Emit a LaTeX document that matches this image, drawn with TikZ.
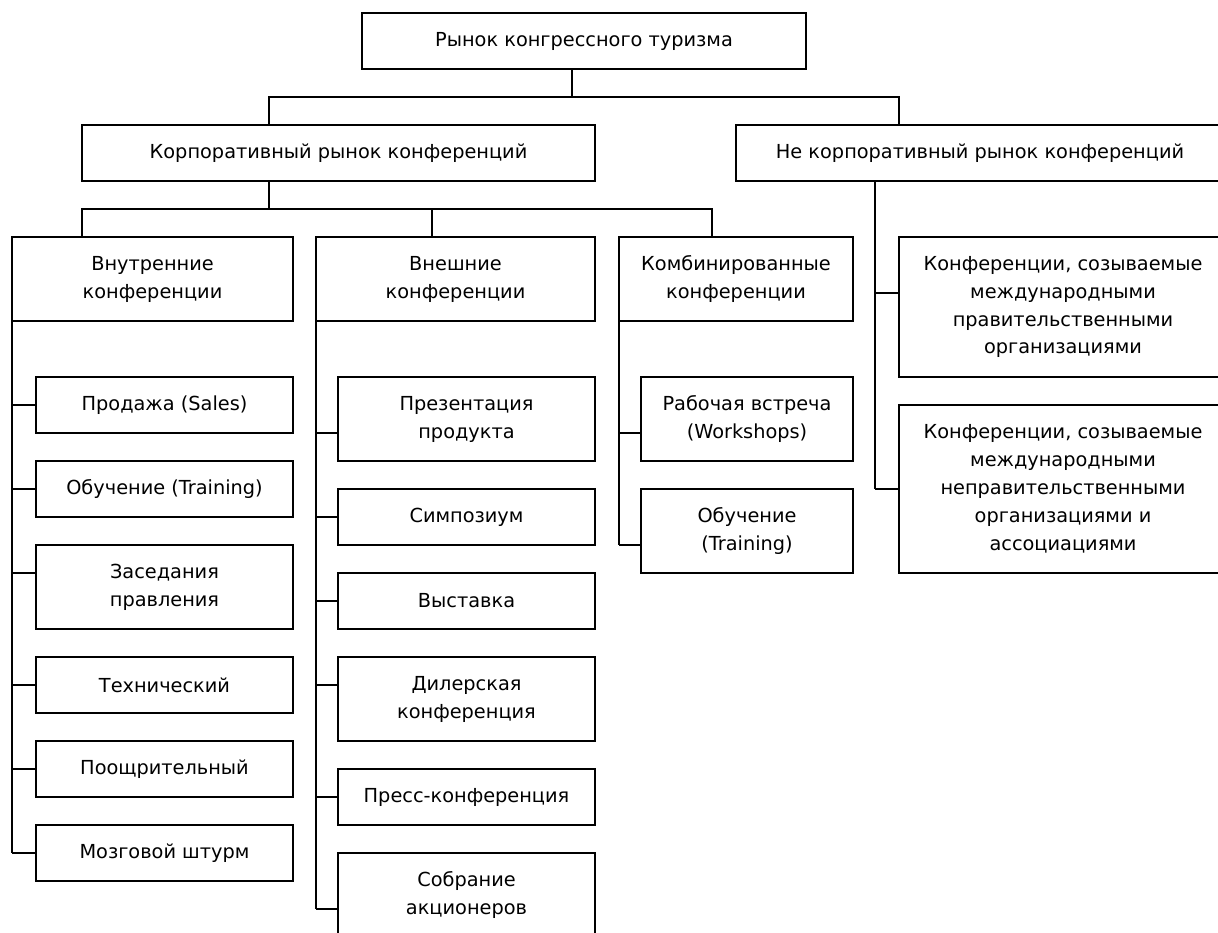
\documentclass[tikz,border=0pt]{standalone}
\usepackage{fontspec}
\setmainfont{DejaVu Sans}
\usetikzlibrary{calc}

\begin{document}
\begin{tikzpicture}[x=0.02cm,y=-0.02cm,
	box/.style={draw,line width=1.1pt,outer sep=0pt,inner sep=1pt,align=center,font=\fontsize{11}{15.9}\selectfont},
	one/.style={minimum height=1.12cm},
	two/.style={minimum height=1.68cm},
	colw/.style={minimum width=5.14cm},
	conn/.style={line width=1.1pt}]
	\useasboundingbox (0,0) rectangle (1218,933);
	\clip (0,0) rectangle (1218,933);

	% top levels
	\node[box,one,minimum width=8.88cm] (root) at (584,41) {Рынок конгрессного туризма};
	\node[box,one,minimum width=10.26cm] (corp) at (338.5,153) {Корпоративный рынок конференций};
	\node[box,one,minimum width=9.76cm] (noncorp) at (980,153) {Не корпоративный рынок конференций};
	\node[box,two,minimum width=5.62cm] (inner) at (152.5,279) {Внутренние\\конференции};
	\node[box,two,minimum width=5.58cm] (ext) at (455.5,279) {Внешние\\конференции};
	\node[box,two,minimum width=4.68cm] (comb) at (736,279) {Комбинированные\\конференции};

	% inner conferences
	\node[box,one,colw] (prod) at (164.5,405) {Продажа (Sales)};
	\node[box,one,colw] (obuch) at (164.5,489) {Обучение (Training)};
	\node[box,two,colw] (zased) at (164.5,587) {Заседания\\правления};
	\node[box,one,colw] (tech) at (164.5,685) {Технический};
	\node[box,one,colw] (pooshch) at (164.5,769) {Поощрительный};
	\node[box,one,colw] (mozg) at (164.5,853) {Мозговой штурм};

	% external conferences
	\node[box,two,colw] (prez) at (466.5,419) {Презентация\\продукта};
	\node[box,one,colw] (simp) at (466.5,517) {Симпозиум};
	\node[box,one,colw] (vyst) at (466.5,601) {Выставка};
	\node[box,two,colw] (diler) at (466.5,699) {Дилерская\\конференция};
	\node[box,one,colw] (press) at (466.5,797) {Пресс-конференция};
	\node[box,two,colw] (sobr) at (466.5,895) {Собрание\\акционеров};

	% combined conferences
	\node[box,two,minimum width=4.24cm] (rab) at (747,419) {Рабочая встреча\\(Workshops)};
	\node[box,two,minimum width=4.24cm] (obuchb) at (747,531) {Обучение\\(Training)};

	% non corporate
	\node[box,minimum width=6.56cm,minimum height=2.8cm] (gov) at (1063,307)
		{Конференции, созываемые\\международными\\правительственными\\организациями};
	\node[box,minimum width=6.56cm,minimum height=3.36cm] (ngo) at (1063,489)
		{Конференции, созываемые\\международными\\неправительственными\\организациями и\\ассоциациями};

	% buses
	\coordinate (t1) at (572,97);
	\coordinate (t2) at (269,209);
	\coordinate (d1) at (432,209);
	\coordinate (d2) at (712,209);
	\coordinate (ns) at (875,181);

	\draw[conn] (root.south -| t1) -- (t1);
	\draw[conn] (corp.north -| t2) |- (t1) -| (noncorp.north -| gov.west);
	\draw[conn] (corp.south -| t2) -- (t2);
	\draw[conn] (inner.north -| corp.west) |- (d2) -- (comb.north -| d2);
	\draw[conn] (d1) -- (ext.north -| d1);

	% ticks to the spines
	\foreach \sp/\n/\d in {inner/prod/28,inner/obuch/28,inner/zased/28,inner/tech/28,inner/pooshch/28,inner/mozg/28,
		ext/prez/56,ext/simp/28,ext/vyst/28,ext/diler/28,ext/press/28,ext/sobr/56,
		comb/rab/56,comb/obuchb/56}{
		\coordinate (k\n) at ($(\n.north west)+(0,\d)$);
		\draw[conn] (\sp.south west |- k\n) -- (k\n);
	}
	\coordinate (kgov) at ($(gov.north west)+(0,56)$);
	\coordinate (kngo) at ($(ngo.north west)+(0,84)$);
	\draw[conn] (ns |- kgov) -- (kgov);
	\draw[conn] (ns |- kngo) -- (kngo);

	\draw[conn] (inner.south west) -- (inner.south west |- kmozg);
	\draw[conn] (ext.south west) -- (ext.south west |- ksobr);
	\draw[conn] (comb.south west) -- (comb.south west |- kobuchb);
	\draw[conn] (ns) -- (ns |- kngo);
\end{tikzpicture}
\end{document}
